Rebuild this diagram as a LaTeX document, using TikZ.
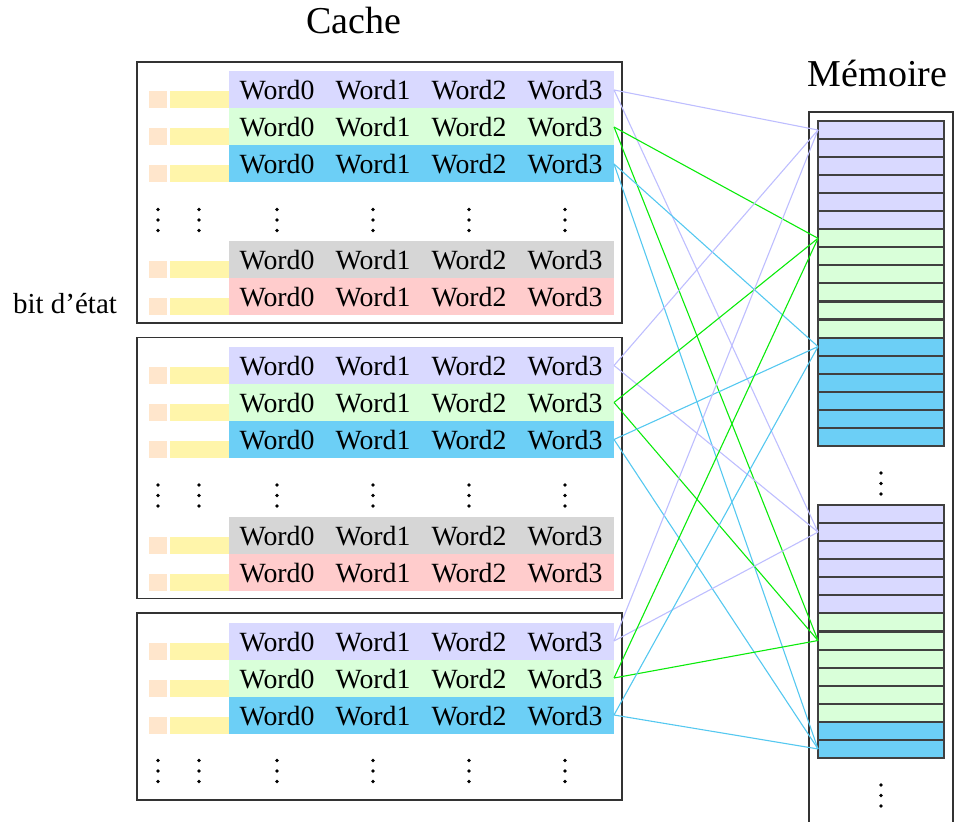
\documentclass[tikz,border=0pt]{standalone}
\usepackage{fontspec}
\setmainfont{Liberation Serif}
\definecolor{setA}{RGB}{217,217,255}
\definecolor{setB}{RGB}{217,255,217}
\definecolor{setC}{RGB}{108,207,246}
\definecolor{rowgray}{RGB}{214,214,214}
\definecolor{rowpink}{RGB}{255,204,204}
\definecolor{tagpeach}{RGB}{255,230,204}
\definecolor{tagyellow}{RGB}{255,245,170}
\definecolor{linkA}{RGB}{190,190,255}
\definecolor{linkB}{RGB}{10,235,10}
\definecolor{linkC}{RGB}{85,200,240}
\newcommand\wordfont{\fontsize{13.9}{16}\selectfont}
\newcommand\titlefont{\fontsize{19}{22}\selectfont}
\newcommand\labelfont{\fontsize{14.5}{17}\selectfont}
\begin{document}
\begin{tikzpicture}[x=0.5pt,y=-0.5pt,
  boxframe/.style={draw=black!80,line width=0.6pt},
  slot/.style={fill=#1,draw=none,minimum width=192.5pt,minimum height=18.5pt,
    inner sep=0pt,outer sep=0pt,anchor=north west},
  word/.style={font=\wordfont,inner sep=0pt,anchor=base},
  cell/.style={fill=#1,draw=black!75,line width=1.05pt,minimum width=63pt,
    minimum height=9.03pt,inner sep=0pt,outer sep=0pt,anchor=north west},
  linkline/.style={draw=#1,line width=0.55pt},
  dot/.style={fill=black,radius=1.8}]
\useasboundingbox (0,0) rectangle (956,822);
\clip (0,0) rectangle (956,822);

% titles
\node[font=\titlefont,anchor=base,inner sep=0pt] (cachetitle) at (354,34) {Cache};
\node[font=\titlefont,anchor=base,inner sep=0pt] (memtitle) at (877.5,87) {Mémoire};
\node[font=\labelfont,anchor=base,inner sep=0pt] (statebit) at (65,314) {bit d'état};

% cache ways
\draw[boxframe] (137,62) rectangle (622,323);
\draw[boxframe] (137,337.5) rectangle (622,598.5);
\draw[boxframe] (137,613) rectangle (622,800);

\foreach \b in {0,1,2}{
  \pgfmathsetmacro\off{275.5*\b}
  \foreach \r/\c in {0/setA,1/setB,2/setC}{
    \pgfmathsetmacro\rtop{71.5+\off+37*\r}
    \node[slot=\c] (row-\b-\r) at (229,\rtop) {};
    \fill[tagpeach] (149,\rtop+20) rectangle (167,\rtop+37);
    \fill[tagyellow] (170,\rtop+20) rectangle (229,\rtop+37);
    \foreach \w in {0,...,3}
      \node[word] (w-\b-\r-\w) at (277+96*\w,\rtop+28.5) {Word\w};
  }
  % vertical ellipsis in every column
  \foreach \x in {158,199,277,373,469,565}
    \foreach \d in {-10.5,0,10.5}
      \fill[dot] (\x,220+\off+\d) circle;
}
\foreach \b in {0,1}{
  \pgfmathsetmacro\off{275.5*\b}
  \foreach \r/\c in {3/rowgray,4/rowpink}{
    \pgfmathsetmacro\rtop{241.5+\off+37*(\r-3)}
    \node[slot=\c] (row-\b-\r) at (229,\rtop) {};
    \fill[tagpeach] (149,\rtop+20) rectangle (167,\rtop+37);
    \fill[tagyellow] (170,\rtop+20) rectangle (229,\rtop+37);
    \foreach \w in {0,...,3}
      \node[word] (w-\b-\r-\w) at (277+96*\w,\rtop+28.5) {Word\w};
  }
}

% main memory
\draw[boxframe] (809,112) rectangle (953,900);
\foreach \g/\c in {0/setA,1/setB,2/setC}
  \foreach \i in {0,...,5}{
    \pgfmathtruncatemacro\k{6*\g+\i}
    \node[cell=\c] (m1-\k) at (818,121+18.05*\k) {};
  }
\foreach \g/\c/\n in {0/setA/5,1/setB/5,2/setC/1}
  \foreach \i in {0,...,\n}{
    \pgfmathtruncatemacro\k{6*\g+\i}
    \node[cell=\c] (m2-\k) at (818,505+18.07*\k) {};
  }
\foreach \y in {483.5,795.5}
  \foreach \d in {-10.5,0,10.5}
    \fill[dot] (881,\y+\d) circle;

% each cache line may hold one of several memory blocks
\foreach \b in {0,1,2}
  \foreach \r/\c in {0/linkA,1/linkB,2/linkC}{
    \pgfmathtruncatemacro\ka{6*\r}
    \pgfmathtruncatemacro\kb{6*\r+1}
    \draw[linkline=\c] (row-\b-\r.east) -- (m1-\ka.west);
    \draw[linkline=\c] (row-\b-\r.east) -- (m2-\kb.west);
  }
\end{tikzpicture}
\end{document}
